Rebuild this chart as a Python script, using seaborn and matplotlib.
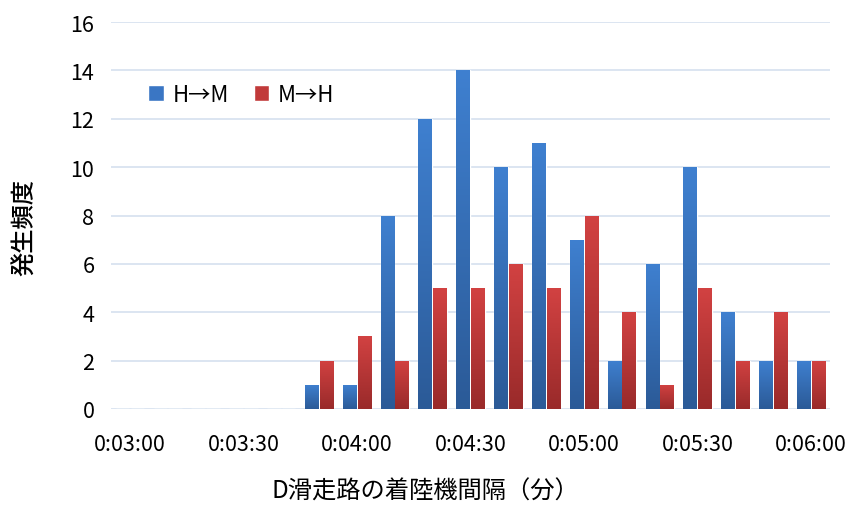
import numpy as np
import pandas as pd
import matplotlib
matplotlib.use("Agg")
import matplotlib.pyplot as plt
import seaborn as sns
from matplotlib.colors import LinearSegmentedColormap

categories = ["0:03:00", "0:03:10", "0:03:20", "0:03:30", "0:03:40", "0:03:50",
              "0:04:00", "0:04:10", "0:04:20", "0:04:30", "0:04:40", "0:04:50",
              "0:05:00", "0:05:10", "0:05:20", "0:05:30", "0:05:40", "0:05:50",
              "0:06:00"]
h_to_m = [0, 0, 0, 0, 0, 1, 1, 8, 12, 14, 10, 11, 7, 2, 6, 10, 4, 2, 2]
m_to_h = [0, 0, 0, 0, 0, 2, 3, 2, 5, 5, 6, 5, 8, 4, 1, 5, 2, 4, 2]
series_names = ["H→M", "M→H"]
yticks = [0, 2, 4, 6, 8, 10, 12, 14, 16]

df = pd.DataFrame({
    "cat": categories * 2,
    "val": h_to_m + m_to_h,
    "series": [series_names[0]] * len(categories) + [series_names[1]] * len(categories),
})

sns.set_theme(style="white")
plt.rcParams['font.family'] = ['Noto Sans CJK JP', 'DejaVu Sans']
plt.rcParams['text.color'] = 'black'
plt.rcParams['xtick.color'] = 'black'
plt.rcParams['ytick.color'] = 'black'
plt.rcParams['axes.labelcolor'] = 'black'

fig = plt.figure(figsize=(8.53, 5.06), dpi=100)
ax = fig.add_axes([111/853, 1 - 410/506, (830-111)/853, (410-23)/506])

palette = {series_names[0]: "#3A76C4", series_names[1]: "#C13A3A"}
sns.barplot(data=df, x="cat", y="val", hue="series", order=categories,
            hue_order=series_names, palette=palette, width=0.78, gap=0.08,
            ax=ax, saturation=1, legend=True)

grads = {
    series_names[0]: LinearSegmentedColormap.from_list("b", ["#2B5A97", "#3F80D0"]),
    series_names[1]: LinearSegmentedColormap.from_list("r", ["#992A2A", "#D24242"]),
}
grad = np.linspace(0, 1, 256).reshape(-1, 1)
n = len(categories)
for i, p in enumerate(ax.patches[:2 * n]):
    s = series_names[i // n]
    h = p.get_height()
    if h <= 0:
        continue
    x0 = p.get_x(); w = p.get_width()
    im = ax.imshow(grad, cmap=grads[s], origin="lower", aspect="auto",
                   extent=[x0, x0 + w, 0, h], zorder=p.get_zorder() + 0.1)
    im.set_clip_path(p)

ax.set_xlim(-0.5, n - 0.5)
ax.set_ylim(0, 16)
ax.set_yticks(yticks)
ax.set_yticklabels([str(v) for v in yticks], fontsize=15.5)
ax.set_xticks(range(n))
ax.set_xticklabels([c if i % 3 == 0 else "" for i, c in enumerate(categories)], fontsize=15.5)
ax.tick_params(axis="both", length=0)
ax.tick_params(axis="y", pad=12)
ax.tick_params(axis="x", pad=17)
ax.grid(axis="y", color="#D6E0EF", linewidth=1.2)
ax.set_axisbelow(True)
for sp in ax.spines.values():
    sp.set_visible(False)

ax.set_xlabel("D滑走路の着陸機間隔（分）", fontsize=17.5, va="center")
ax.xaxis.set_label_coords((425 - 111) / 719, (410 - 492) / 387)
ax.set_ylabel("発生頻度", fontsize=17.5, fontweight="medium", va="center")
ax.yaxis.set_label_coords((25 - 111) / 719, (410 - 228) / 387)

handles, labels = ax.get_legend_handles_labels()
for hnd, c in zip(handles, ["#3A76C4", "#C13A3A"]):
    hnd.set_facecolor(c)
ax.legend(handles, labels, loc="upper left", bbox_to_anchor=(0.024, 0.895),
          ncol=2, frameon=False, fontsize=16, handlelength=0.7, handleheight=0.7,
          handletextpad=0.4, columnspacing=1.1)

fig.savefig("out.png", dpi=100)
